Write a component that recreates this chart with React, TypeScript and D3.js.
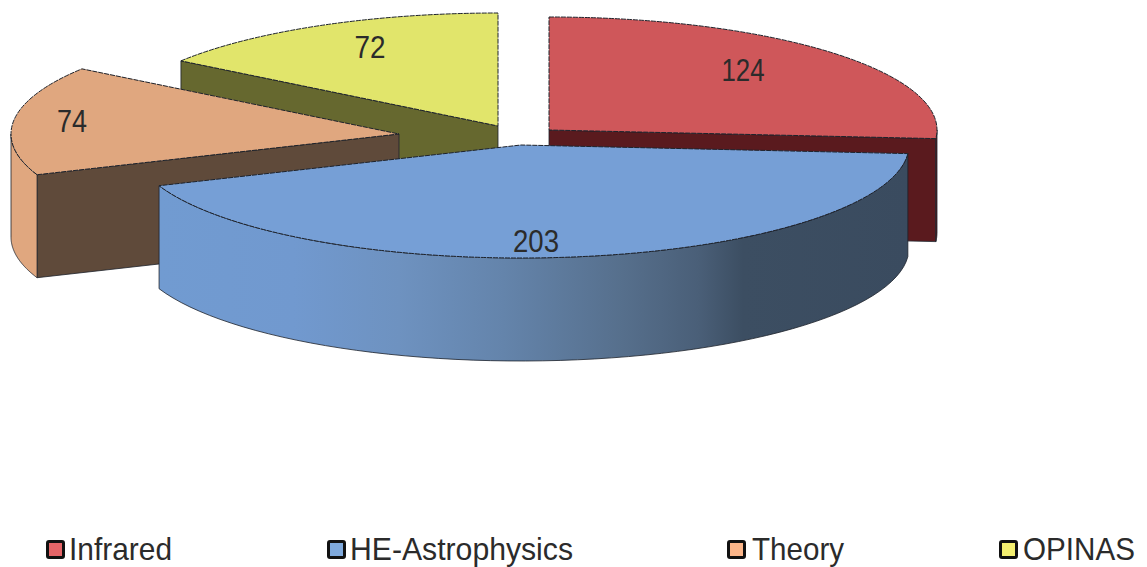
import React from 'react';
import * as d3 from 'd3';

const categories = ['Infrared', 'HE-Astrophysics', 'Theory', 'OPINAS'];
const values = [124, 203, 74, 72];

// colours per category
const topColors = ['#cf575a', '#769fd6', '#e0a77f', '#e1e56b'];
const sideColors = ['#5a1a1e', 'url(#heWall)', '#e0a77f', '#66682f'];
const faceColors = ['#5a1a1e', '#3a4b5f', '#5f4a3a', '#66682f'];
const legendColors = ['#e56568', '#7fa9dc', '#fcb68a', '#f4ef70'];

// layout: each exploded slice has its own origin
const centers: [number, number][] = [[549, 130], [521, 145], [399, 134], [498, 126]];
const labelPos: [number, number][] = [[743, 81], [536, 252], [72, 132], [370, 58]];
const labelWidth = [43, 46, 30, 31];
const legendBoxX = [46, 327, 727, 999];
const legendTextX = [69, 350, 752, 1023];
const legendTextW = [103, 223, 92, 112];

const rx = 388;
const ry = 113;
const depth = 103;
const k = ry / rx;
const drawOrder = [3, 2, 0, 1];
const edge = '#1d222b';
const textColor = '#2b2b2b';

const pie = d3.pie<number>().sort(null).startAngle(0).endAngle(2 * Math.PI);
const slices = pie(values);
const topArc = d3.arc<d3.PieArcDatum<number>>().innerRadius(0).outerRadius(rx);

const px = (a: number) => rx * Math.sin(a);
const py = (a: number) => -ry * Math.cos(a);

const wallArea = d3
  .area<number>()
  .x((a) => px(a))
  .y0((a) => py(a))
  .y1((a) => py(a) + depth);

// outer wall, only the part that faces the viewer
const wallPath = (start: number, end: number) => {
  const from = Math.max(start, Math.PI / 2);
  const to = Math.min(end, (3 * Math.PI) / 2);
  if (from >= to) return null;
  const steps = d3.range(0, 61).map((i) => from + ((to - from) * i) / 60);
  return wallArea(steps);
};

const facePath = (a: number) =>
  d3.line()([
    [0, 0],
    [px(a), py(a)],
    [px(a), py(a) + depth],
    [0, depth],
  ]) + 'Z';

const App = () => {
  return (
    <svg
      width={1147}
      height={567}
      style={{ position: 'absolute', left: 0, top: 0, background: '#fff' }}
      fontFamily="'Liberation Sans', Arial, sans-serif"
    >
      <defs>
        {/* gradient runs in the slice's local coordinates */}
        <linearGradient
          id="heWall"
          gradientUnits="userSpaceOnUse"
          x1={px(slices[1].endAngle)}
          x2={px(slices[1].startAngle)}
          y1={0}
          y2={0}
        >
          <stop offset="0" stopColor="#719bd1" />
          <stop offset="0.18" stopColor="#7199cf" />
          <stop offset="0.32" stopColor="#6e92c0" />
          <stop offset="0.46" stopColor="#6484ab" />
          <stop offset="0.62" stopColor="#566f8c" />
          <stop offset="0.72" stopColor="#4a5f78" />
          <stop offset="0.78" stopColor="#3c4e62" />
          <stop offset="1" stopColor="#3a4b5f" />
        </linearGradient>
      </defs>

      {drawOrder.map((i) => {
        const s = slices[i];
        const [cx, cy] = centers[i];
        const wall = wallPath(s.startAngle, s.endAngle);
        return (
          <g key={categories[i]} transform={`translate(${cx},${cy})`}>
            {s.endAngle < Math.PI && (
              <path d={facePath(s.endAngle)} fill={faceColors[i]} stroke={edge} strokeWidth={0.8} />
            )}
            {s.startAngle > Math.PI && (
              <path d={facePath(s.startAngle)} fill={faceColors[i]} stroke={edge} strokeWidth={0.8} />
            )}
            {wall && <path d={wall} fill={sideColors[i]} stroke={edge} strokeWidth={0.8} />}
            <path
              d={topArc(s) as string}
              transform={`scale(1,${k})`}
              fill={topColors[i]}
              stroke={edge}
              strokeWidth={1}
              strokeDasharray="5 1"
              style={{ vectorEffect: 'non-scaling-stroke' }}
            />
          </g>
        );
      })}

      {values.map((v, i) => (
        <text
          key={categories[i]}
          x={labelPos[i][0]}
          y={labelPos[i][1]}
          textAnchor="middle"
          fontSize={32}
          fill={textColor}
          textLength={labelWidth[i]}
          lengthAdjust="spacingAndGlyphs"
        >
          {v}
        </text>
      ))}

      {categories.map((c, i) => (
        <g key={c}>
          <rect
            x={legendBoxX[i] + 1.5}
            y={541.5}
            width={16}
            height={16}
            fill={legendColors[i]}
            stroke="#111"
            strokeWidth={3}
            rx={1.5}
          />
          <text
            x={legendTextX[i]}
            y={560}
            fontSize={32}
            fill={textColor}
            textLength={legendTextW[i]}
            lengthAdjust="spacingAndGlyphs"
          >
            {c}
          </text>
        </g>
      ))}
    </svg>
  );
};

export default App;
